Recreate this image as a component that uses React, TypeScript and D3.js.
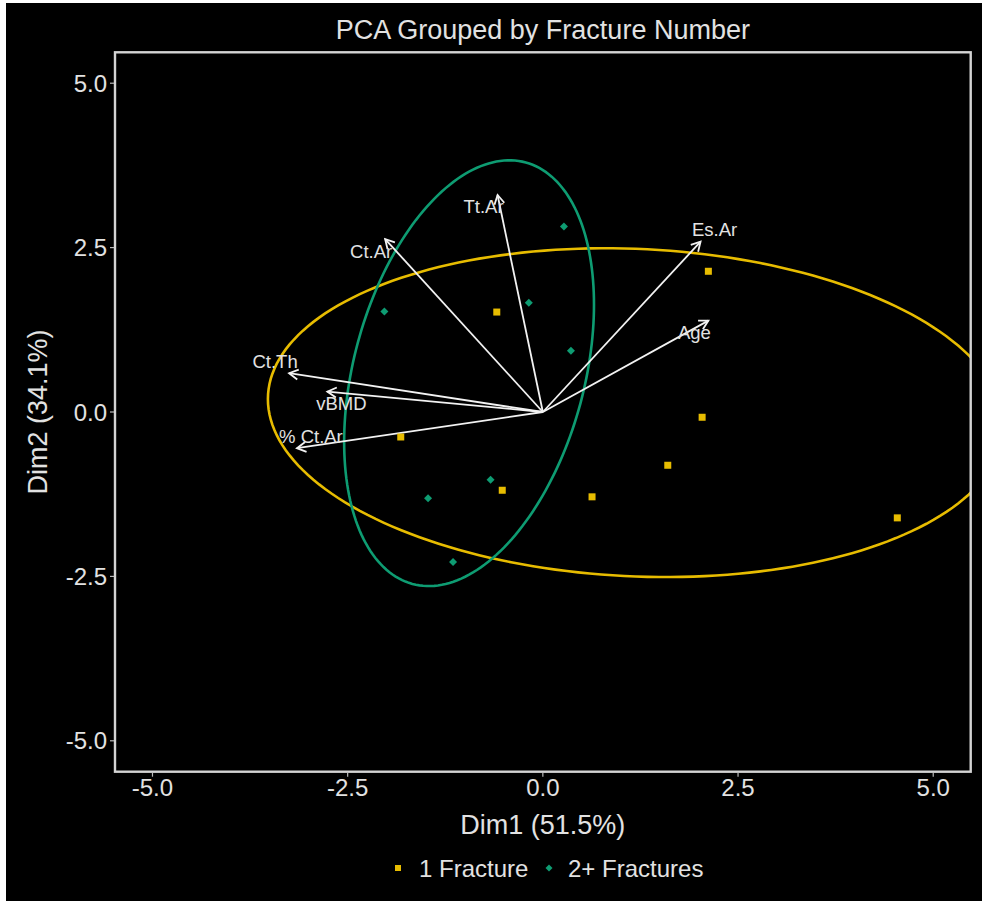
import * as d3 from 'd3';

// PCA scores
const oneFracX = [2.12, -0.59, -1.82, 2.04, 1.6, -0.52, 0.63, 4.54];
const oneFracY = [2.14, 1.52, -0.38, -0.08, -0.81, -1.19, -1.29, -1.61];
const twoFracX = [0.27, -0.18, -2.03, 0.36, -0.67, -1.47, -1.15];
const twoFracY = [2.82, 1.66, 1.53, 0.93, -1.03, -1.31, -2.28];

// variable loadings (arrows)
const varNames = ['Tt.Ar', 'Ct.Ar', 'Ct.Th', 'vBMD', '% Ct.Ar', 'Es.Ar', 'Age'];
const varX = [-0.58, -2.02, -3.25, -2.76, -3.15, 2.02, 2.12];
const varY = [3.3, 2.63, 0.59, 0.31, -0.55, 2.59, 1.39];
// which side of the arrow tip the label sits (screen dx, dy sign)
const labelSide = [[-1, 1], [-1, 1], [-1, -1], [1, 1], [1, -1], [1, -1], [-1, 1]];

// group ellipses: centre and covariance (xx, xy, yy)
const groups = ['1 Fracture', '2+ Fractures'];
const groupColors = ['#E7BC00', '#0E9C72'];
const ellipseCenter = [[1.19, -0.01], [-0.945, 0.59]];
const ellipseCov = [[22.2, -0.97, 6.25], [2.56, 1.67, 10.48]];

const ticks = [-5, -2.5, 0, 2.5, 5];

const W = 982;
const H = 901;
const panel = { left: 115, right: 970.7, top: 52.3, bottom: 771.7 };
const font = '"Liberation Sans", Arial, sans-serif';
const textColor = '#e2e2e2';

function ellipsePoints(c, cov) {
    const l11 = Math.sqrt(cov[0]);
    const l21 = cov[1] / l11;
    const l22 = Math.sqrt(cov[2] - l21 * l21);
    return d3.range(0, 201).map((i) => {
        const t = (i / 200) * Math.PI * 2;
        return [c[0] + l11 * Math.cos(t), c[1] + l21 * Math.cos(t) + l22 * Math.sin(t)];
    });
}

export default function App() {
    const x = d3.scaleLinear([-5.48, 5.48], [panel.left, panel.right]);
    const y = d3.scaleLinear([-5.47, 5.47], [panel.bottom, panel.top]);
    const line = d3.line().x((d) => x(d[0])).y((d) => y(d[1]));
    const cx = (panel.left + panel.right) / 2;

    return (
        <svg width={W} height={H} style={{ position: 'absolute', left: 0, top: 0, display: 'block' }} fontFamily={font}>
            <defs>
                <clipPath id="panel-clip">
                    <rect x={panel.left} y={panel.top} width={panel.right - panel.left} height={panel.bottom - panel.top} />
                </clipPath>
                <marker id="arrow" viewBox="-12 -8 16 16" markerWidth={16} markerHeight={16} markerUnits="userSpaceOnUse" refX={0} refY={0} orient="auto">
                    <path d="M-9,-5 L0,0 L-9,5" fill="none" stroke="#f2f2f2" strokeWidth={1.8} />
                </marker>
            </defs>
            <rect width={W} height={H} fill="#fff" />
            <rect x={6} y={3} width={W - 6} height={H - 3} fill="#000" />

            <text x={cx} y={39} textAnchor="middle" fontSize={27} fill={textColor}>PCA Grouped by Fracture Number</text>

            <g clipPath="url(#panel-clip)">
                {ellipseCenter.map((c, i) => (
                    <path key={i} d={line(ellipsePoints(c, ellipseCov[i]))} fill="none" stroke={groupColors[i]} strokeWidth={2.6} />
                ))}
                {varNames.map((n, i) => (
                    <line key={n} x1={x(0)} y1={y(0)} x2={x(varX[i])} y2={y(varY[i])} stroke="#f2f2f2" strokeWidth={1.8} markerEnd="url(#arrow)" />
                ))}
                {varNames.map((n, i) => (
                    <text key={n} x={x(varX[i]) + labelSide[i][0] * 14} y={y(varY[i]) + labelSide[i][1] * 12} textAnchor="middle" dominantBaseline="central" fontSize={18.5} fill={textColor}>{n}</text>
                ))}
                {oneFracX.map((v, i) => (
                    <rect key={i} x={x(v) - 3.5} y={y(oneFracY[i]) - 3.5} width={7} height={7} fill={groupColors[0]} />
                ))}
                {twoFracX.map((v, i) => (
                    <path key={i} d={`M${x(v)},${y(twoFracY[i]) - 4}l4,4l-4,4l-4,-4z`} fill={groupColors[1]} />
                ))}
            </g>

            <rect x={panel.left} y={panel.top} width={panel.right - panel.left} height={panel.bottom - panel.top} fill="none" stroke="#d4d4d4" strokeWidth={2.4} />

            {ticks.map((t) => (
                <g key={'x' + t}>
                    <line x1={x(t)} x2={x(t)} y1={panel.bottom + 1} y2={panel.bottom + 5} stroke="#bbb" strokeWidth={1.2} />
                    <text x={x(t)} y={796} textAnchor="middle" fontSize={24} fill={textColor}>{d3.format('.1f')(t).replace('−', '-')}</text>
                </g>
            ))}
            {ticks.map((t) => (
                <g key={'y' + t}>
                    <line x1={panel.left - 5} x2={panel.left - 1} y1={y(t)} y2={y(t)} stroke="#bbb" strokeWidth={1.2} />
                    <text x={107} y={y(t)} textAnchor="end" dominantBaseline="central" fontSize={24} fill={textColor}>{d3.format('.1f')(t).replace('−', '-')}</text>
                </g>
            ))}

            <text x={cx} y={834} textAnchor="middle" fontSize={27} fill={textColor}>Dim1 (51.5%)</text>
            <text transform={`translate(47,${y(0)}) rotate(-90)`} textAnchor="middle" fontSize={27} fill={textColor}>Dim2 (34.1%)</text>

            <g>
                <rect x={395} y={865} width={6} height={6} fill={groupColors[0]} />
                <text x={419} y={876.5} fontSize={24} fill={textColor}>{groups[0]}</text>
                <path d="M549,864.5l3.5,3.5l-3.5,3.5l-3.5,-3.5z" fill={groupColors[1]} />
                <text x={568} y={876.5} fontSize={24} fill={textColor}>{groups[1]}</text>
            </g>
        </svg>
    );
}
